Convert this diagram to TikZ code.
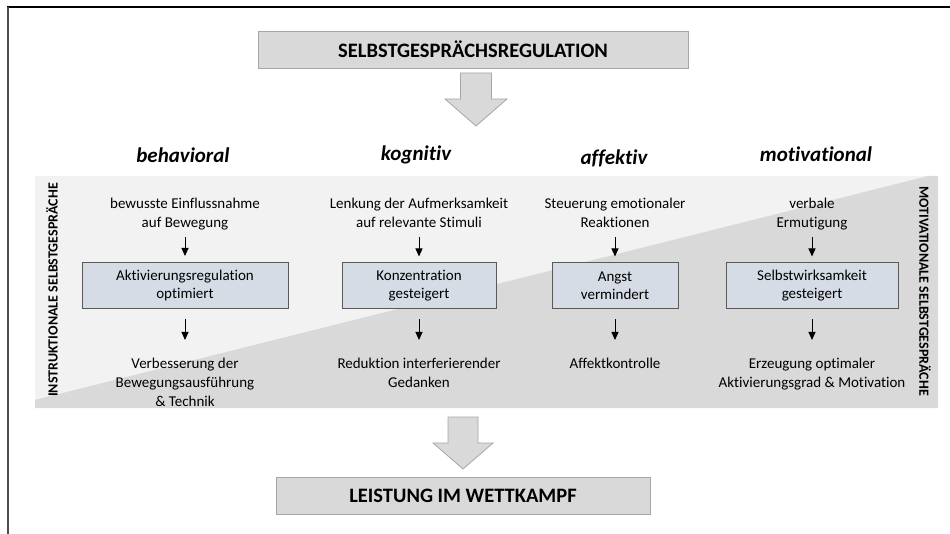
\documentclass[tikz,border=0pt]{standalone}
\usepackage{fontspec}
\setmainfont{Carlito}[Ligatures=NoCommon]
\usetikzlibrary{arrows.meta}
\definecolor{headfill}{HTML}{D9D9D9}
\definecolor{headline}{HTML}{A6A6A6}
\definecolor{efffill}{HTML}{D6DCE5}
\definecolor{effline}{HTML}{595959}
\definecolor{bandlight}{HTML}{F2F2F2}
\definecolor{banddark}{HTML}{D9D9D9}
\begin{document}
\begin{tikzpicture}[x=1pt,y=-1pt,
  headbox/.style={draw=headline, fill=headfill, line width=0.8pt, minimum height=37pt,
    font=\fontsize{20.5}{24}\selectfont\bfseries},
  effectbox/.style={draw=effline, fill=efffill, line width=1pt, minimum height=46pt,
    align=center, inner sep=0pt, font=\fontsize{15}{18}\selectfont},
  note/.style={align=center, inner sep=0pt, anchor=north, font=\fontsize{15}{19}\selectfont},
  dimlabel/.style={font=\fontsize{21}{24}\selectfont\bfseries\itshape},
  sidelabel/.style={font=\fontsize{14}{16}\selectfont\bfseries, inner sep=0pt},
  inarrow/.style={-{Triangle[width=7pt,length=8pt]}, line width=1pt, shorten <=4pt, shorten >=6pt},
  outarrow/.style={-{Triangle[width=7pt,length=8pt]}, line width=1pt, shorten <=10pt, shorten >=15pt},
  bigarrow/.style={fill=headfill, draw=headline, line width=0.8pt, line join=miter}]

\useasboundingbox (0,0) rectangle (950,534);

% frame lines
\draw[line width=1.5pt] (7,7) -- (950,7);
\draw[line width=2pt, color=black!70] (8,7) -- (8,534);

% background band split along the diagonal
\fill[bandlight] (35,176) rectangle (938,408);
\fill[banddark] (35,400) -- (35,408) -- (938,408) -- (938,176) -- (928,176) -- cycle;

% top and bottom boxes
\node[headbox, minimum width=430pt] (top) at (473,49.5) {SELBSTGESPRÄCHSREGULATION};
\node[headbox, minimum width=374pt] (bottom) at (463,496) {LEISTUNG IM WETTKAMPF};

% block arrows
\draw[bigarrow] (460.5,73) -- (491.5,73) -- (491.5,99) -- (507,99) -- (476,126)
  -- (445,99) -- (460.5,99) -- cycle;
\draw[bigarrow] (448,417) -- (478,417) -- (478,443) -- (493,443) -- (463,469)
  -- (433,443) -- (448,443) -- cycle;

% dimension headings
\node[dimlabel] (dimA) at (183,155) {behavioral};
\node[dimlabel] (dimB) at (416,155) {kognitiv};
\node[dimlabel] (dimC) at (614,158) {affektiv};
\node[dimlabel] (dimD) at (816,154) {motivational};

% side labels
\node[sidelabel, rotate=90] (instr) at (52,290) {INSTRUKTIONALE SELBSTGESPRÄCHE};
\node[sidelabel, rotate=-90] (motiv) at (925,291) {MOTIVATIONALE SELBSTGESPRÄCHE};

% column: behavioral
\node[note] (inA) at (185,195) {bewusste Einflussnahme\strut\\auf Bewegung\strut};
\node[effectbox, minimum width=206pt] (boxA) at (185,285.5) {Aktivierungsregulation\\optimiert};
\node[note] (outA) at (185,355) {Verbesserung der\strut\\Bewegungsausführung\strut\\\& Technik\strut};

% column: kognitiv
\node[note] (inB) at (419,195) {Lenkung der Aufmerksamkeit\strut\\auf relevante Stimuli\strut};
\node[effectbox, minimum width=154pt] (boxB) at (419,286) {Konzentration\\gesteigert};
\node[note] (outB) at (419,355) {Reduktion interferierender\strut\\Gedanken\strut};

% column: affektiv
\node[note] (inC) at (615,195) {Steuerung emotionaler\strut\\Reaktionen\strut};
\node[effectbox, minimum width=126pt] (boxC) at (615,286) {Angst\\vermindert};
\node[note] (outC) at (615,355) {Affektkontrolle\strut};

% column: motivational
\node[note] (inD) at (812,195) {verbale\strut\\Ermutigung\strut};
\node[effectbox, minimum width=172pt] (boxD) at (812,286) {Selbstwirksamkeit\\gesteigert};
\node[note] (outD) at (812,355) {Erzeugung optimaler\strut\\Aktivierungsgrad \& Motivation\strut};

% small arrows
\foreach \c in {A,B,C,D}{
  \draw[inarrow] (in\c) -- (box\c);
  \draw[outarrow] (box\c) -- (out\c);
}
\end{tikzpicture}
\end{document}
